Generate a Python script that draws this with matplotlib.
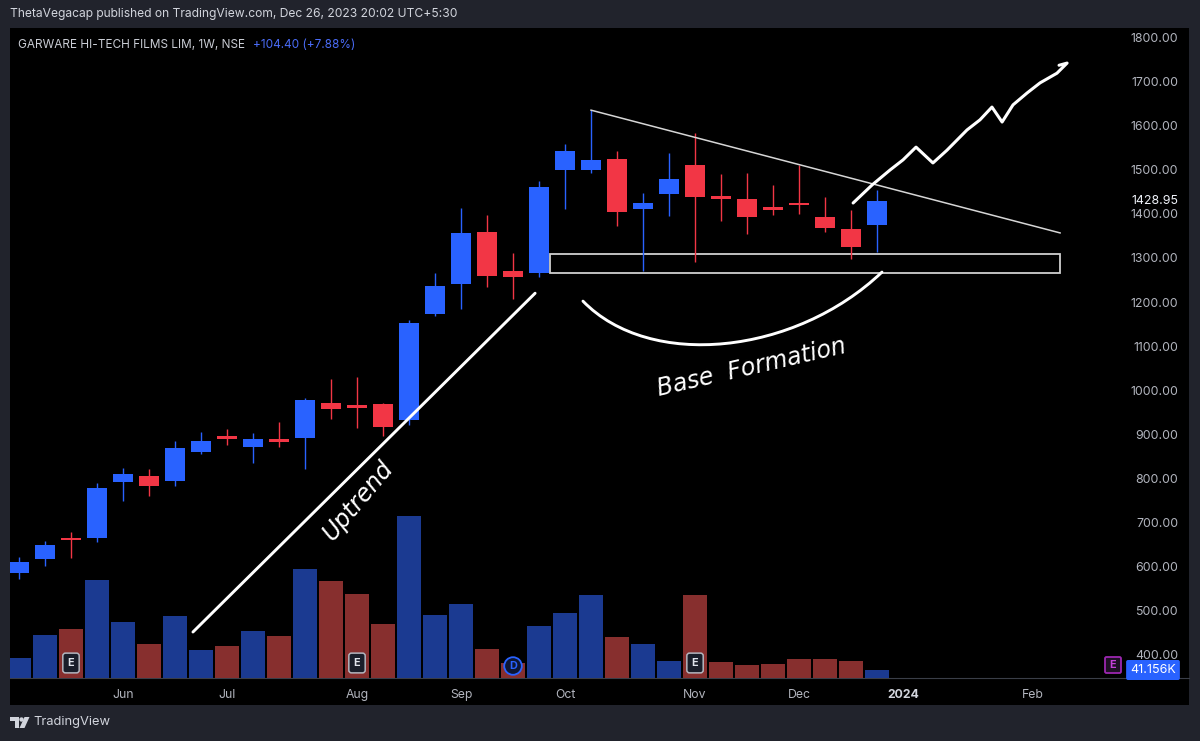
import matplotlib
matplotlib.use('Agg')
import matplotlib.pyplot as plt
from matplotlib.patches import Rectangle, FancyBboxPatch, Polygon, PathPatch, Circle
from matplotlib.path import Path
import matplotlib.transforms as mtransforms

# weekly candles, GARWARE HI-TECH FILMS LIM (NSE), May - Dec 2023
opens  = [584, 616, 664, 664, 791, 805, 793, 859, 895, 870, 889, 891, 970, 966, 968, 932, 1173,
          1241, 1359, 1270, 1266, 1500, 1500, 1525, 1411, 1445, 1511, 1441, 1434, 1416, 1425, 1393, 1366, 1375]
closes = [609, 648, 659, 777, 809, 782, 868, 884, 889, 889, 882, 977, 957, 959, 916, 1152, 1236,
          1357, 1259, 1257, 1461, 1543, 1523, 1405, 1425, 1480, 1439, 1434, 1393, 1409, 1420, 1368, 1324.55, 1428.95]
highs  = [620, 657, 677, 789, 823, 820, 884, 905, 911, 902, 927, 982, 1025, 1030, 970, 1159, 1266,
          1414, 1398, 1311, 1475, 1559, 1636, 1543, 1448, 1539, 1584, 1491, 1493, 1466, 1511, 1439, 1409, 1455]
lows   = [570, 600, 618, 655, 748, 759, 782, 855, 875, 834, 870, 820, 934, 914, 895, 920, 1168,
          1184, 1234, 1207, 1257, 1411, 1493, 1373, 1270, 1395, 1291, 1384, 1355, 1398, 1400, 1359, 1298, 1314]
volumes = [103, 221, 252, 504, 288, 175, 319, 144, 165, 242, 216, 560, 499, 432, 278, 833, 324,
           380, 149, 77, 267, 334, 427, 211, 175, 87, 427, 82, 67, 72, 98, 98, 87, 41.156]  # thousands

month_pos = [4, 8, 13, 17, 21, 26, 30, 34, 39]
month_labels = ['Jun', 'Jul', 'Aug', 'Sep', 'Oct', 'Nov', 'Dec', '2024', 'Feb']
price_ticks = list(range(400, 1900, 100))
earnings_weeks = [2, 13, 26]
dividend_weeks = [19]

# hand drawn stuff (week index, price)
uptrend_x, uptrend_y = [6.69, 19.85], [450, 1220]
wedge_x, wedge_y = [22.0, 40.04], [1636, 1357]
base_box = (20.42, 40.04, 1266, 1309)
base_arc = [(21.69, 1202), (24.27, 1045), (29.85, 1080), (33.19, 1268)]
proj_x = [32.08, 32.81, 33.5, 34.0, 34.5, 35.15, 35.69, 36.46, 36.96, 37.42, 37.81, 38.23, 38.77,
          39.27, 39.92, 40.31, 40.0]
proj_y = [1425, 1466, 1500, 1523, 1552, 1516, 1545, 1591, 1614, 1643, 1609, 1648, 1675,
          1698, 1720, 1743, 1738]

UP, DOWN = '#2962ff', '#f23645'
UP_VOL, DOWN_VOL = '#1b3a91', '#872f2e'
TXT = '#b2b5be'
FONT = 'Inter'

fig = plt.figure(figsize=(12, 7.41), dpi=100, facecolor='#21232c')

# background in pixel coords
bg = fig.add_axes([0, 0, 1, 1], zorder=0)
bg.set_xlim(0, 1200)
bg.set_ylim(741, 0)
bg.axis('off')
bg.add_patch(Rectangle((10, 28), 1179, 677, facecolor='black', edgecolor='none'))
bg.plot([10, 1189], [678, 678], color='#3a3e48', lw=0.8)
bg.text(10, 14, 'ThetaVegacap published on TradingView.com, Dec 26, 2023 20:02 UTC+5:30',
        color='#d1d4dc', fontsize=8.7, family=FONT, va='center', ha='left')
# footer logo
bg.add_patch(Polygon([(10, 717), (18.5, 717), (18.5, 728), (14.5, 728), (14.5, 721), (10, 721)],
                     closed=True, facecolor='#d1d4dc', edgecolor='none'))
bg.add_patch(Circle((21.5, 719.5), 2.2, facecolor='#d1d4dc', edgecolor='none'))
bg.add_patch(Polygon([(24.5, 717), (29.5, 717), (24.5, 728), (19.5, 728)],
                     closed=True, facecolor='#d1d4dc', edgecolor='none'))
bg.text(33, 722, 'TradingView', color='#d1d4dc', fontsize=9.3, family=FONT, va='center')

pos = [10 / 1200, 1 - 678 / 741, 1100 / 1200, 650 / 741]
ax_vol = fig.add_axes(pos, zorder=1)
ax = fig.add_axes(pos, zorder=2)
for a in (ax_vol, ax):
    a.set_facecolor('none')
    for s in a.spines.values():
        s.set_visible(False)
    a.set_xlim(-0.346, 41.96)

idx = list(range(len(opens)))
up = [c >= o for o, c in zip(opens, closes)]

# volume
ax_vol.bar(idx, volumes, width=0.92, color=[UP_VOL if u else DOWN_VOL for u in up])
ax_vol.set_ylim(0, 650 * 41.156 / 8)
ax_vol.set_xticks([])
ax_vol.set_yticks([])

# candles
cols = [UP if u else DOWN for u in up]
ax.vlines(idx, lows, highs, colors=cols, lw=1.0)
bottoms = [min(o, c) for o, c in zip(opens, closes)]
heights = [max(abs(c - o), 5) for o, c in zip(opens, closes)]
ax.bar(idx, heights, bottom=bottoms, width=0.77, color=cols)
ax.set_ylim(345.5, 1822.7)

ax.yaxis.tick_right()
ax.set_yticks(price_ticks, [f'{p:.2f}' for p in price_ticks])
ax.tick_params(axis='y', length=0, pad=49, labelcolor=TXT, labelsize=8.9)
for lbl in ax.get_yticklabels():
    lbl.set_horizontalalignment('right')
    lbl.set_family(FONT)
blend_y = mtransforms.blended_transform_factory(ax.transAxes, ax.transData)
ax.text(1.0 + 68 / 1100, closes[-1], f'{closes[-1]:.2f}', transform=blend_y, ha='right', va='center',
        color='#f0f3fa', fontsize=8.9, family=FONT, clip_on=False)

ax.set_xticks(month_pos, month_labels)
ax.tick_params(axis='x', length=0, pad=8, labelcolor=TXT, labelsize=8.8)
for lbl in ax.get_xticklabels():
    lbl.set_family(FONT)
    if lbl.get_text() == '2024':
        lbl.set_fontweight('bold')
        lbl.set_color('#d1d4dc')

# legend line
ax.text(8 / 1100, 1 - 17 / 650, 'GARWARE HI-TECH FILMS LIM, 1W, NSE', transform=ax.transAxes,
        color='#c9ccd4', fontsize=8.5, family=FONT, va='center', ha='left')
chg = closes[-1] - closes[-2]
ax.text(243 / 1100, 1 - 17 / 650, f'+{chg:.2f} (+{chg / closes[-2] * 100:.2f}%)', transform=ax.transAxes,
        color='#4a6cf7', fontsize=8.5, family=FONT, va='center', ha='left')

# E / D markers on the volume pane
blend_x = mtransforms.blended_transform_factory(ax.transData, ax.transAxes)
for w in earnings_weeks:
    ax.text(w, 15 / 650, 'E', transform=blend_x, ha='center', va='center', color='#e0e3eb',
            fontsize=7.8, fontweight='bold', family=FONT,
            bbox=dict(boxstyle='round,pad=0.45,rounding_size=0.25', fc='#1a1e2a', ec='#b2b5be', lw=1.1))
for w in dividend_weeks:
    ax.text(w, 12 / 650, 'D', transform=blend_x, ha='center', va='center', color='#2962ff',
            fontsize=7.8, fontweight='bold', family=FONT,
            bbox=dict(boxstyle='circle,pad=0.35', fc='#0d1633', ec='#2962ff', lw=1.3))

# right side badges (pixel coords)
ax.add_patch(FancyBboxPatch((1105, 657), 16, 16, boxstyle='round,pad=0,rounding_size=1.5',
                            fc='#1e1024', ec='#9c27b0', lw=1.3, transform=bg.transData, clip_on=False))
ax.text(1113, 665, 'E', transform=bg.transData, ha='center', va='center', color='#c440d8',
        fontsize=7.8, fontweight='bold', family=FONT, clip_on=False)
blend_vol = mtransforms.blended_transform_factory(bg.transData, ax_vol.transData)
ax.text(1153, volumes[-1], f'{volumes[-1]:.3f}K', transform=blend_vol, ha='center', va='center',
        color='white', fontsize=9, family=FONT, clip_on=False,
        bbox=dict(boxstyle='round,pad=0.32,rounding_size=0.15', fc='#2962ff', ec='none'))

# drawings
ax.plot(uptrend_x, uptrend_y, color='white', lw=2.1, solid_capstyle='round')
ax.plot(wedge_x, wedge_y, color='#d6d6d6', lw=1.1)
x0, x1, y0, y1 = base_box
ax.add_patch(Rectangle((x0, y0), x1 - x0, y1 - y0, fill=False, ec='#d0d0d0', lw=1.3))
ax.add_patch(PathPatch(Path(base_arc, [Path.MOVETO, Path.CURVE4, Path.CURVE4, Path.CURVE4]),
                       fill=False, ec='white', lw=2.1, capstyle='round'))
ax.plot(proj_x, proj_y, color='white', lw=2.2, solid_capstyle='round', solid_joinstyle='round')

ax.text(13.04, 748, 'Uptrend', rotation=50, rotation_mode='anchor', ha='center', va='center',
        color='white', fontsize=17, style='italic', family='DejaVu Sans', fontweight='light')
ax.text(28.19, 1052, 'Base  Formation', rotation=13, rotation_mode='anchor', ha='center', va='center',
        color='white', fontsize=17, style='italic', family='DejaVu Sans', fontweight='light')

plt.savefig('out.png', dpi=100, facecolor=fig.get_facecolor())
